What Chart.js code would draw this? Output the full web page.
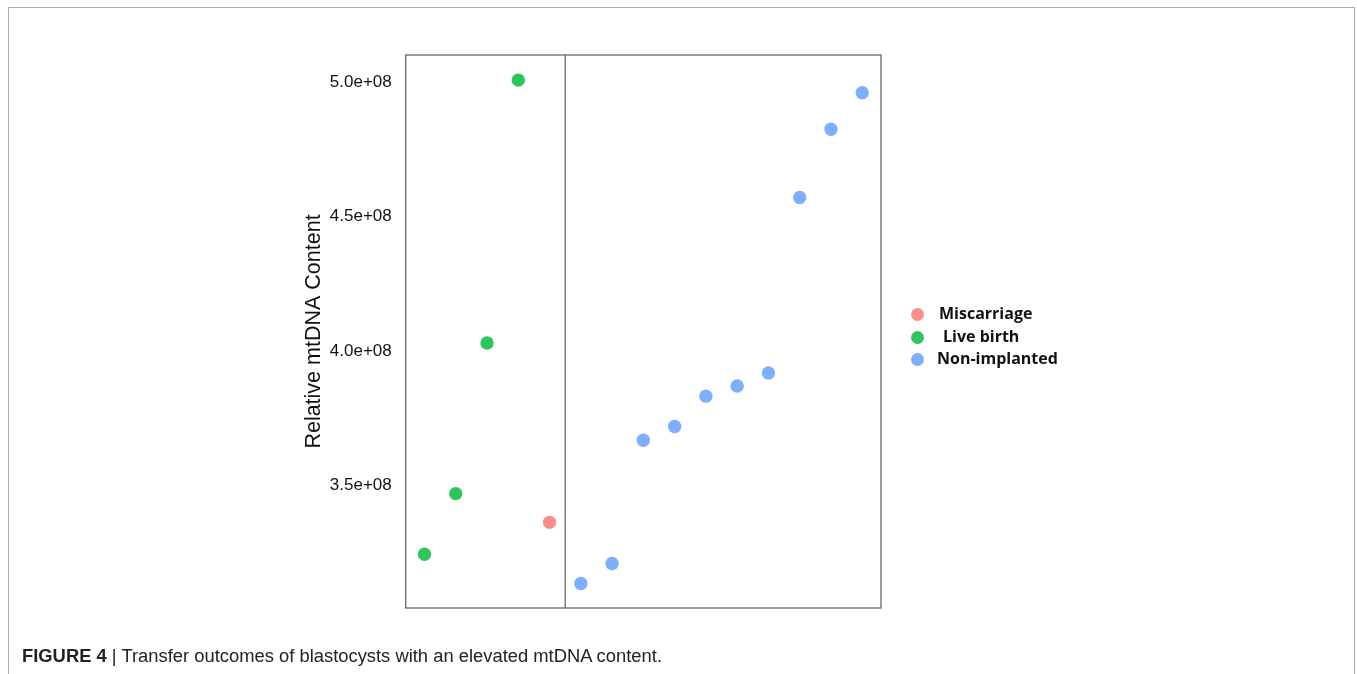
<!DOCTYPE html>
<html>
<head>
<meta charset="utf-8">
<script src="https://cdn.jsdelivr.net/npm/chart.js@4/dist/chart.umd.min.js"></script>
<style>
  html, body { margin:0; padding:0; background:#fff; }
  body { width:1357px; height:674px; position:relative; overflow:hidden; }
  #frame { position:absolute; left:8px; top:7px; width:1347px; height:700px;
           border:1px solid #aaaaaa; border-bottom:none; box-sizing:border-box; }
  #c { position:absolute; left:0; top:0; }
  .leg { position:absolute; font-family:"Open Sans", sans-serif; font-weight:700;
         font-size:16px; color:#111; line-height:20px; white-space:pre; }
  .dot { position:absolute; width:13px; height:13px; border-radius:50%; }
  #caption { position:absolute; left:22px; top:646px; font-family:"Liberation Sans Narrow","Arial Narrow","Liberation Sans",sans-serif;
             font-size:18px; color:#222; white-space:nowrap; transform-origin:0 50%; }
  #caption b { font-weight:700; }
</style>
</head>
<body>
<div id="frame"></div>
<canvas id="c" width="1357" height="674"></canvas>
<div id="legend"></div>
<div id="caption"><b>FIGURE 4</b> | Transfer outcomes of blastocysts with an elevated mtDNA content.</div>
<script>
// ---- data ----
const categories = ['Miscarriage', 'Live birth', 'Non-implanted'];
const miscarriageX = [5];
const miscarriageY = [3.362e8];
const liveBirthX = [1, 2, 3, 4];
const liveBirthY = [3.243e8, 3.469e8, 4.030e8, 5.009e8];
const nonImplantedX = [6, 7, 8, 9, 10, 11, 12, 13, 14, 15];
const nonImplantedY = [3.134e8, 3.209e8, 3.668e8, 3.719e8, 3.832e8, 3.870e8, 3.918e8, 4.572e8, 4.826e8, 4.962e8];
const yTickValues = [3.5e8, 4.0e8, 4.5e8, 5.0e8];
const yTickLabels = ['3.5e+08', '4.0e+08', '4.5e+08', '5.0e+08'];
const groupDivider = 5.5;

const colors = ['rgba(248,118,109,0.82)', 'rgba(0,186,56,0.82)', 'rgba(97,156,255,0.82)'];

function pts(xs, ys) { return xs.map((x, i) => ({ x: x, y: ys[i] })); }

const boxPlugin = {
  id: 'box',
  afterDatasetsDraw(chart) {
    const { ctx, chartArea: a, scales } = chart;
    ctx.save();
    ctx.strokeStyle = '#5a5a5a';
    ctx.lineWidth = 1.2;
    ctx.strokeRect(a.left, a.top, a.right - a.left, a.bottom - a.top);
    const xp = scales.x.getPixelForValue(groupDivider);
    ctx.beginPath();
    ctx.moveTo(xp, a.top);
    ctx.lineTo(xp, a.bottom);
    ctx.stroke();
    ctx.restore();
  }
};

const mk = (label, xs, ys, col) => ({
  label: label, data: pts(xs, ys), backgroundColor: col, borderWidth: 0,
  pointRadius: 6.7, pointHoverRadius: 6.7, showLine: false
});

new Chart(document.getElementById('c'), {
  type: 'scatter',
  data: {
    datasets: [
      mk(categories[0], miscarriageX, miscarriageY, colors[0]),
      mk(categories[1], liveBirthX, liveBirthY, colors[1]),
      mk(categories[2], nonImplantedX, nonImplantedY, colors[2])
    ]
  },
  options: {
    responsive: false,
    animation: false,
    layout: { padding: { left: 301, right: 476, top: 55, bottom: 66 } },
    plugins: { legend: { display: false }, tooltip: { enabled: false } },
    scales: {
      x: { type: 'linear', min: 0.4, max: 15.6, display: false },
      y: {
        type: 'linear', min: 3.043e8, max: 5.1025e8,
        afterBuildTicks: (s) => { s.ticks = yTickValues.map(v => ({ value: v })); },
        ticks: {
          padding: 14,
          color: '#111',
          font: { family: '"Liberation Sans", Arial, sans-serif', size: 17 },
          callback: (v) => { const i = yTickValues.indexOf(v); return i >= 0 ? yTickLabels[i] : ''; }
        },
        grid: { display: false, drawTicks: false },
        border: { display: false },
        title: {
          display: true, text: 'Relative mtDNA Content', color: '#111',
          font: { family: '"Liberation Sans", Arial, sans-serif', size: 21.5 },
          padding: { top: 0, bottom: -11 }
        }
      }
    }
  },
  plugins: [boxPlugin]
});

// ---- legend (HTML) ----
const legendRows = [
  { text: categories[0], y: 314, tx: 939 },
  { text: categories[1], y: 337, tx: 943 },
  { text: categories[2], y: 359, tx: 937 }
];
const lg = document.getElementById('legend');
legendRows.forEach((r, i) => {
  const d = document.createElement('div');
  d.className = 'dot';
  d.style.left = (917 - 6.5) + 'px';
  d.style.top = (r.y - 6.5) + 'px';
  d.style.background = colors[i];
  lg.appendChild(d);
  const t = document.createElement('div');
  t.className = 'leg';
  t.style.left = r.tx + 'px';
  t.style.top = (r.y - 11) + 'px';
  t.textContent = r.text;
  lg.appendChild(t);
});

// fit caption width to reference
const cap = document.getElementById('caption');
const w = cap.getBoundingClientRect().width;
cap.style.transform = 'scaleX(' + (640 / w) + ')';
</script>
</body>
</html>
